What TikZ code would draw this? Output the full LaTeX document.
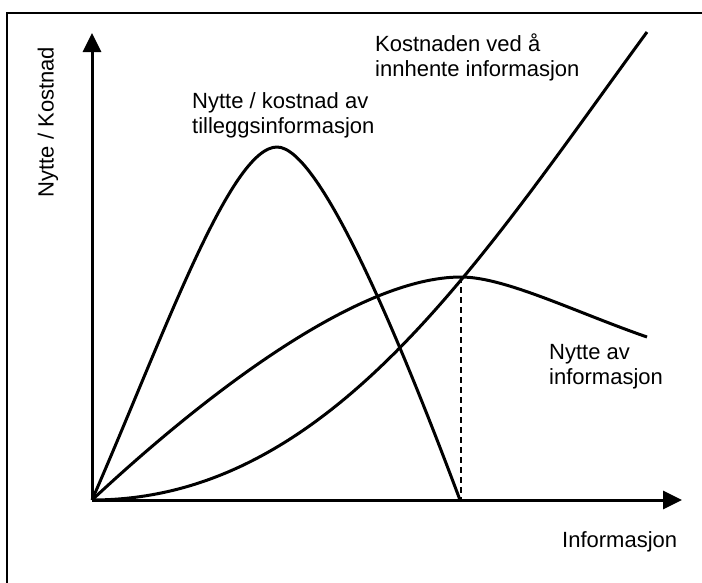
\documentclass[tikz,border=0pt]{standalone}
\usepackage{fontspec}
\setmainfont{Liberation Sans}
\usetikzlibrary{arrows.meta}

\tikzset{
	curve/.style={line width=3pt, line join=round},
	axis/.style={line width=3pt, -{Triangle[length=19pt,width=18pt]}},
	lbl/.style={inner sep=0pt, align=left, anchor=north west, font=\fontsize{22}{25}\selectfont},
}

\begin{document}
\begin{tikzpicture}[x=1pt, y=-1pt]
		\useasboundingbox (0,0) rectangle (702,582) ;
		\draw[line width=2.2pt] (7,13) rectangle (720,600) ;

		\coordinate (O) at (92,500) ;
		\coordinate (ytip) at (92,33) ;
		\coordinate (xtip) at (682,500) ;

		\coordinate (kend) at (647,32) ;
		\coordinate (nkpeak) at (277,147) ;
		\coordinate (nkend) at (460,500) ;
		\coordinate (npeak) at (461,277) ;
		\coordinate (nend) at (647,337) ;

		\node[lbl] (kost) at (375,34) {Kostnaden ved å\\innhente informasjon} ;
		\node[lbl] (nk) at (192,92) {Nytte / kostnad av\\tilleggsinformasjon} ;
		\node[lbl] (nytte) at (549,344) {Nytte av\\informasjon} ;
		\node[lbl] (xlab) at (562,531) {Informasjon} ;
		\node[inner sep=0pt, rotate=90, font=\fontsize{22}{25}\selectfont] (ylab) at (48,122) {Nytte / Kostnad} ;

		\draw[axis] (O) -- (ytip) ;
		\draw[axis] (O) -- (xtip) ;

		% kostnad
		\draw[curve] (O) .. controls (330,500) and (480,260) .. (kend) ;
		% nytte / kostnad
		\draw[curve] (O) .. controls (162,340) and (230,147) .. (nkpeak)
			.. controls (320,147) and (400,340) .. (nkend) ;
		% nytte
		\draw[curve] (O) .. controls (210,390) and (360,277) .. (npeak)
			.. controls (505,277) and (575,312) .. (nend) ;

		\draw[line width=1.8pt, dash pattern=on 6pt off 4pt] (npeak) -- (npeak |- O) ;
\end{tikzpicture}
\end{document}
